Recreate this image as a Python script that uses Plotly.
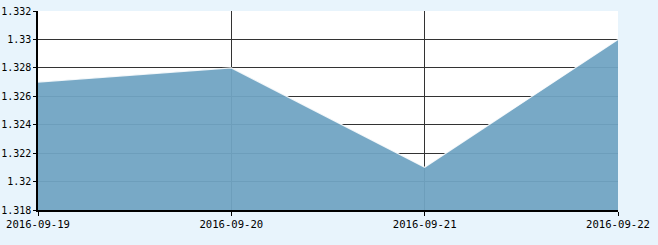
import plotly.graph_objects as go

dates = ["2016-09-19", "2016-09-20", "2016-09-21", "2016-09-22"]
values = [1.327, 1.328, 1.321, 1.330]
y_ticks = [1.318, 1.32, 1.322, 1.324, 1.326, 1.328, 1.33, 1.332]
y_tick_labels = ["1.318", "1.32", "1.322", "1.324", "1.326", "1.328", "1.33", "1.332"]

fig = go.Figure()
fig.add_trace(go.Scatter(
    x=dates, y=values, mode="lines", fill="tozeroy",
    fillcolor="rgba(113,164,195,0.95)",
    line=dict(color="rgba(255,255,255,0.85)", width=1.2),
    hoverinfo="x+y",
))

xfont = dict(family="DejaVu Sans Mono, monospace", size=10.6, color="#000000")
yfont = dict(family="DejaVu Sans Mono, monospace", size=10, color="#000000")
fig.update_layout(
    width=658, height=245,
    margin=dict(l=38, r=40, t=11, b=35, pad=0),
    paper_bgcolor="#E8F4FC", plot_bgcolor="#FFFFFF",
    showlegend=False, font=xfont,
    xaxis=dict(
        type="category", range=[0, 3], showline=True, linecolor="#000000", linewidth=1.5,
        showgrid=True, gridcolor="#333333", gridwidth=1, automargin=False,
        ticks="outside", ticklen=4, tickcolor="#000000", tickfont=xfont, zeroline=False,
    ),
    yaxis=dict(
        range=[1.318, 1.332], tickvals=y_ticks, ticktext=y_tick_labels,
        showline=True, linecolor="#000000", linewidth=1.5, automargin=False,
        showgrid=True, gridcolor="#333333", gridwidth=1,
        ticks="outside", ticklen=3, tickcolor="#000000", tickfont=yfont, zeroline=False,
    ),
)
fig.write_html("out.html")
